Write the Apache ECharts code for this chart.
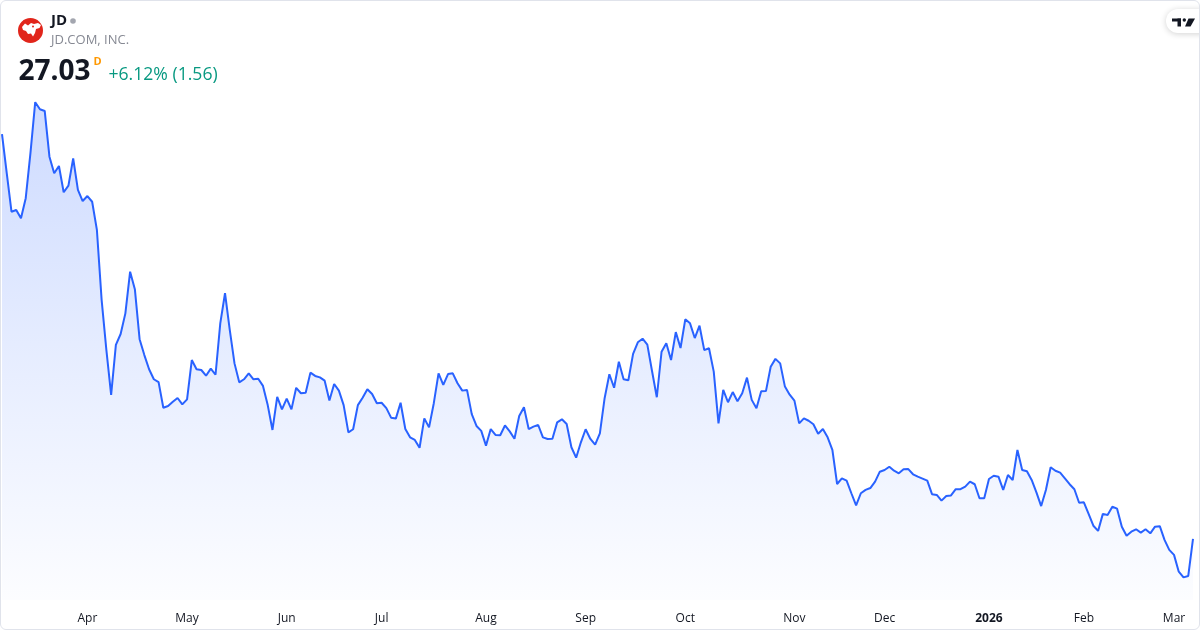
<!DOCTYPE html>
<html><head><meta charset="utf-8">
<script src="https://cdn.jsdelivr.net/npm/echarts@6/dist/echarts.min.js"></script>
<style>
html,body{margin:0;padding:0;background:#fff;}
#c{position:absolute;left:0;top:0;width:1200px;height:630px;}
#b{position:absolute;left:0;top:0;width:1200px;height:630px;box-sizing:border-box;border:1px solid #e0e3eb;border-radius:6px;pointer-events:none;}
</style>
</head><body><div id="c"></div><div id="b"></div>
<script>
const symbol = 'JD';
const company = 'JD.COM, INC.';
const lastPrice = '27.03';
const resolution = 'D';
const changeText = '+6.12% (1.56)';
const startDate = '2025-03-06';
const holidays = ['2025-04-18','2025-05-26','2025-06-19','2025-07-04','2025-09-01','2025-11-27','2025-12-25','2026-01-01','2026-01-19','2026-02-16'];
const monthNames = ['Jan','Feb','Mar','Apr','May','Jun','Jul','Aug','Sep','Oct','Nov','Dec'];

const closes = [
44.11,42.47,40.84,40.91,40.56,41.41,43.32,45.46,45.16,45.09,
43.16,42.46,42.77,41.66,41.94,43.09,41.76,41.29,41.50,41.26,
40.07,37.11,35.00,33.11,35.22,35.68,36.55,38.31,37.57,35.46,
34.79,34.19,33.77,33.65,32.57,32.64,32.82,32.98,32.71,32.92,
34.58,34.19,34.16,33.92,34.22,33.96,36.13,37.40,35.85,34.44,
33.64,33.77,34.02,33.77,33.79,33.49,32.68,31.63,33.03,32.50,
32.95,32.50,33.41,33.18,33.20,34.05,33.91,33.85,33.71,32.87,
33.57,33.29,32.68,31.53,31.66,32.68,32.99,33.35,33.15,32.76,
32.78,32.55,32.15,32.11,32.78,31.67,31.32,31.21,30.88,32.12,
31.74,32.76,34.02,33.53,33.99,34.02,33.60,33.29,33.32,32.30,
31.80,31.59,30.97,31.67,31.42,31.41,31.82,31.57,31.26,32.22,
32.59,31.67,31.77,31.84,31.32,31.25,31.26,31.95,32.08,31.88,
30.90,30.46,31.11,31.66,31.25,31.01,31.49,32.97,33.98,33.41,
34.51,33.77,33.73,34.84,35.33,35.48,35.23,34.11,33.01,34.93,
35.29,34.58,35.76,35.09,36.30,36.13,35.51,36.03,35.00,35.08,
34.09,31.91,33.32,32.80,33.23,32.84,33.18,33.84,32.90,32.55,
33.26,33.27,34.30,34.63,34.44,33.46,33.12,32.87,31.91,32.12,
32.02,31.87,31.47,31.67,31.32,30.79,29.35,29.59,29.49,28.96,
28.45,28.96,29.10,29.18,29.45,29.87,29.94,30.08,29.91,29.80,
29.97,29.98,29.76,29.66,29.58,29.49,28.92,28.89,28.65,28.84,
28.87,29.13,29.13,29.24,29.45,29.34,28.75,28.75,29.56,29.70,
29.66,29.10,29.73,29.52,30.79,29.94,29.89,29.52,29.00,28.42,
29.10,30.06,29.91,29.83,29.59,29.34,29.13,28.56,28.58,28.09,
27.59,27.37,28.09,28.04,28.39,28.31,27.55,27.17,27.34,27.44,
27.30,27.44,27.27,27.55,27.57,26.99,26.57,26.36,25.65,25.41,
25.47,27.03
];

// trading-day categories
const dates = [];
(function(){
  const d = new Date(startDate + 'T00:00:00Z');
  while (dates.length < closes.length) {
    const wd = d.getUTCDay();
    const iso = d.toISOString().slice(0,10);
    if (wd !== 0 && wd !== 6 && holidays.indexOf(iso) < 0) dates.push(iso);
    d.setUTCDate(d.getUTCDate() + 1);
  }
})();
const monthOf = s => parseInt(s.slice(5,7),10) - 1;

const chart = echarts.init(document.getElementById('c'), null, {renderer:'canvas'});
const FONT = '"Open Sans", "Noto Sans", sans-serif';

chart.setOption({
  animation: false,
  backgroundColor: '#ffffff',
  grid: {left: 2, right: 7, top: 90, bottom: 30, containLabel: false},
  xAxis: {
    type: 'category',
    data: dates,
    boundaryGap: false,
    axisLine: {show: false},
    axisTick: {show: false},
    splitLine: {show: false},
    axisLabel: {
      interval: (idx, val) => idx > 0 && monthOf(val) !== monthOf(dates[idx-1]),
      formatter: val => {
        const m = monthOf(val);
        return m === 0 ? '{b|' + val.slice(0,4) + '}' : monthNames[m];
      },
      color: '#131722',
      fontSize: 12,
      fontFamily: FONT,
      margin: 13,
      rich: {b: {fontWeight: 'bold', fontSize: 12, color: '#131722', fontFamily: FONT}}
    }
  },
  yAxis: {
    type: 'value',
    min: 24.456,
    max: 45.975,
    show: false,
    splitLine: {show: false}
  },
  series: [{
    type: 'line',
    data: closes,
    showSymbol: false,
    symbol: 'none',
    lineStyle: {color: '#2962ff', width: 2},
    areaStyle: {
      color: new echarts.graphic.LinearGradient(0, 0, 0, 1, [
        {offset: 0, color: 'rgba(41,98,255,0.33)'},
        {offset: 0.5, color: 'rgba(41,98,255,0.17)'},
        {offset: 1, color: 'rgba(41,98,255,0.02)'}
      ])
    }
  }],
  graphic: [
    {type: 'circle', shape: {cx: 30.5, cy: 30.5, r: 12.5}, style: {fill: '#e1251b'}},
    {type: 'polygon', shape: {points: [[22,27],[25,23.5],[28,25.5],[31,23],[34,24],[38,23],[41,25],[39.5,28],[36,29],[35,33],[33,36.5],[31,33.5],[28,34],[26,31],[23,30]]}, style: {fill: '#ffffff'}},
    {type: 'circle', shape: {cx: 33, cy: 26.5, r: 1}, style: {fill: '#e1251b'}},
    {type: 'text', x: 51, y: 21, style: {text: symbol, fontSize: 15, fontWeight: 'bold', fontFamily: FONT, fill: '#131722', verticalAlign: 'middle'}},
    {type: 'circle', shape: {cx: 73, cy: 21, r: 2.8}, style: {fill: '#a3a6af'}},
    {type: 'text', x: 51, y: 40.5, style: {text: company, fontSize: 13, fontFamily: FONT, fill: '#868993', verticalAlign: 'middle'}},
    {type: 'text', x: 18.5, y: 72.5, style: {text: lastPrice, fontSize: 28, fontWeight: 'bold', fontFamily: FONT, fill: '#131722', verticalAlign: 'middle'}},
    {type: 'text', x: 93.5, y: 61.5, style: {text: resolution, fontSize: 11, fontWeight: 'bold', fontFamily: FONT, fill: '#ff9800', verticalAlign: 'middle'}},
    {type: 'text', x: 108.5, y: 74.5, style: {text: changeText, fontSize: 17.6, fontFamily: FONT, fill: '#089981', verticalAlign: 'middle'}},
    {type: 'rect', shape: {x: 1166, y: 9, width: 48, height: 24, r: 12}, style: {fill: '#ffffff', shadowBlur: 6, shadowColor: 'rgba(0,0,0,0.18)', shadowOffsetY: 1}},
    {type: 'rect', shape: {x: 1172, y: 18.5, width: 9, height: 3}, style: {fill: '#131722'}},
    {type: 'rect', shape: {x: 1177.5, y: 18.5, width: 3.5, height: 8}, style: {fill: '#131722'}},
    {type: 'circle', shape: {cx: 1184.3, cy: 20, r: 1.7}, style: {fill: '#131722'}},
    {type: 'polygon', shape: {points: [[1188.5,18.5],[1195,18.5],[1190.5,26.5],[1185,26.5]]}, style: {fill: '#131722'}}
  ]
});
</script>
</body></html>
